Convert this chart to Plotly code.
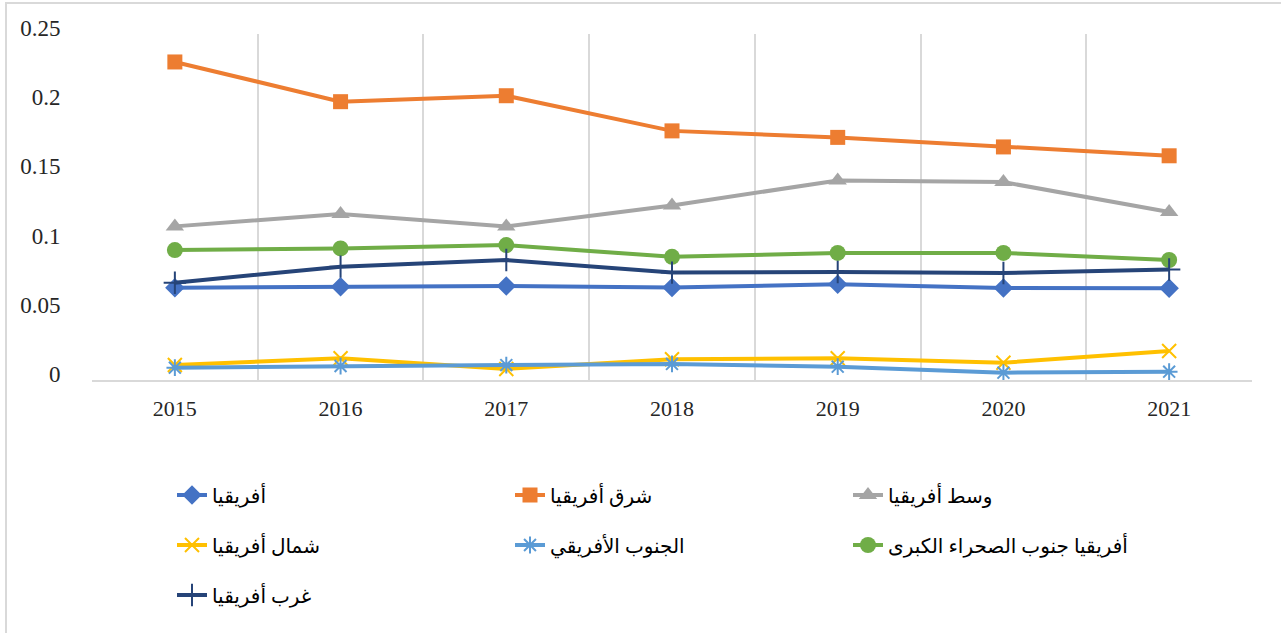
import plotly.graph_objects as go

years = [2015, 2016, 2017, 2018, 2019, 2020, 2021]
year_labels = ["2015", "2016", "2017", "2018", "2019", "2020", "2021"]

africa = [0.0667, 0.0674, 0.0679, 0.0668, 0.0691, 0.0665, 0.0663]
east_africa = [0.2298, 0.2011, 0.2054, 0.1800, 0.1753, 0.1684, 0.1620]
central_africa = [0.1110, 0.1199, 0.1110, 0.1261, 0.1442, 0.1430, 0.1214]
north_africa = [0.0108, 0.0157, 0.0080, 0.0150, 0.0157, 0.0125, 0.0210]
southern_africa = [0.0089, 0.0101, 0.0108, 0.0116, 0.0096, 0.0053, 0.0060]
subsaharan_africa = [0.0939, 0.0951, 0.0975, 0.0890, 0.0918, 0.0918, 0.0867]
west_africa = [0.0703, 0.0819, 0.0867, 0.0776, 0.0780, 0.0773, 0.0798]

y_ticks = [0, 0.05, 0.1, 0.15, 0.2, 0.25]
y_tick_labels = ["0", "0.05", "0.1", "0.15", "0.2", "0.25"]

series = [
    ("أفريقيا", africa, "#4472C4", "diamond", 15, "legend"),
    ("شرق أفريقيا", east_africa, "#ED7D31", "square", 15, "legend"),
    ("وسط أفريقيا", central_africa, "#A5A5A5", "triangle-up", 16, "legend"),
    ("شمال أفريقيا", north_africa, "#FFC000", "x-thin-open", 14, "legend2"),
    ("الجنوب الأفريقي", southern_africa, "#5B9BD5", "asterisk-open", 14, "legend2"),
    ("أفريقيا جنوب الصحراء الكبرى", subsaharan_africa, "#70AD47", "circle", 16, "legend2"),
    ("غرب أفريقيا ", west_africa, "#264478", "cross-thin-open", 16, "legend3"),
]

fig = go.Figure()
for name, vals, color, symbol, size, leg in series:
    open_sym = symbol.endswith("open")
    fig.add_trace(go.Scatter(
        x=years, y=vals, name=name, mode="lines+markers",
        line=dict(color=color, width=4),
        marker=dict(symbol=symbol, size=size, color=color,
                    line=dict(color=color, width=2 if open_sym else 0)),
        legend=leg,
    ))

W, H = 1281, 633
L, R, T, B = 92, 29, 34, 253
pw, ph = W - L - R, H - T - B

def px_x(p):
    return (p - L) / pw

def px_y(p):
    return (H - B - p) / ph

legend_font = dict(family="Liberation Serif, DejaVu Sans, serif", size=20, color="#000000")
common_leg = dict(orientation="h", xanchor="left", yanchor="middle",
                  entrywidth=293, entrywidthmode="pixels",
                  bgcolor="rgba(0,0,0,0)", font=legend_font, traceorder="normal")

fig.update_layout(
    width=W, height=H,
    margin=dict(l=L, r=R, t=T, b=B),
    paper_bgcolor="white", plot_bgcolor="white",
    font=dict(family="Liberation Serif, serif", size=23, color="#262626"),
    legend=dict(x=px_x(172), y=px_y(495), **common_leg),
    legend2=dict(x=px_x(172), y=px_y(545), **common_leg),
    legend3=dict(x=px_x(172), y=px_y(595), **common_leg),
    xaxis=dict(
        range=[2014.5, 2021.5], tickvals=years, ticktext=year_labels,
        showgrid=False, zeroline=False,
        showline=True, linecolor="#D9D9D9", linewidth=2,
        ticks="outside", ticklen=8, tickcolor="rgba(0,0,0,0)",
        minor=dict(tickvals=[y + 0.5 for y in [2014] + years], showgrid=True,
                   gridcolor="#D9D9D9", gridwidth=2, ticks=""),
        tickfont=dict(size=22, color="#262626"),
    ),
    yaxis=dict(
        range=[0, 0.25], tickvals=y_ticks, ticktext=y_tick_labels,
        showgrid=False, zeroline=False, showline=False,
        ticks="outside", ticklen=26, tickcolor="rgba(0,0,0,0)",
        ticklabelshift=-6,
        tickfont=dict(size=23, color="#262626"),
    ),
    shapes=[dict(type="rect", xref="paper", yref="paper",
                 x0=px_x(6), x1=px_x(1300), y0=px_y(3), y1=px_y(660),
                 line=dict(color="#D9D9D9", width=2), layer="below")],
)

fig.write_html("out.html", config={"displayModeBar": False},
               post_script="document.body.style.margin='0';document.body.style.overflow='hidden';")
